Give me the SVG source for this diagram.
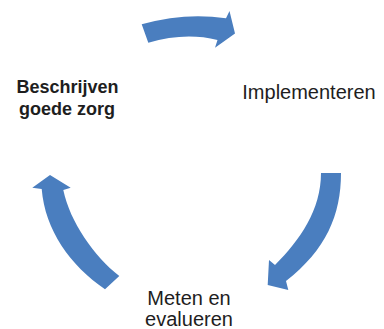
<svg xmlns="http://www.w3.org/2000/svg" width="384" height="329" viewBox="0 0 384 329">
  <style>
    .arrow { fill: #4A7EBF; stroke: none; }
    .label { font-family: "Liberation Sans", Arial, sans-serif; fill: #1e1e1e; text-anchor: middle; }
    .reg { font-size: 20px; }
    .bold { font-size: 18px; font-weight: bold; }
  </style>
  <rect width="384" height="329" fill="#ffffff"/>

  <!-- cycle arrows -->
  <g id="connectors">
    <path class="arrow" d="M 141.7,24.3 Q 185,12 226,18.3 L 229.5,11 L 235,33.5 L 215,47.7 L 217.5,40 Q 185,32 148.3,42.7 Z"/>
    <path class="arrow" d="M 321,173 L 341,173 C 341,215 326,250 286,281 L 288.3,290 L 267.7,285 L 269,260 L 275,265 C 300,240 321,210 321,173 Z"/>
    <path class="arrow" d="M 50,175 L 70.7,187.7 L 63.3,190 C 70,222 94,256 119.3,276 L 105,289.3 C 70,265 45,230 41.7,189 L 32.3,187.7 Z"/>
  </g>

  <g id="node-beschrijven">
    <text class="label bold" x="67.5" y="93.3">Beschrijven</text>
    <text class="label bold" x="67" y="115">goede zorg</text>
  </g>

  <g id="node-implementeren">
    <text class="label reg" x="309" y="99">Implementeren</text>
  </g>

  <g id="node-meten">
    <text class="label reg" x="189" y="305">Meten en</text>
    <text class="label reg" x="189" y="326">evalueren</text>
  </g>
</svg>
